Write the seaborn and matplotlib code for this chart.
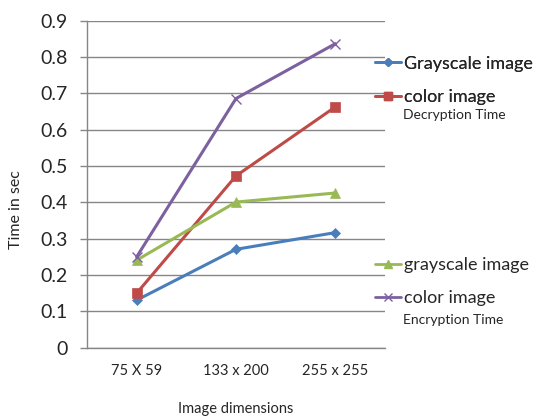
import matplotlib
matplotlib.use('Agg')
import matplotlib.pyplot as plt
import seaborn as sns
from matplotlib.lines import Line2D

# data
dimensions = ['75 X 59', '133 x 200', '255 x 255']
dec_gray = [0.131, 0.271, 0.317]
dec_color = [0.150, 0.473, 0.663]
enc_gray = [0.241, 0.401, 0.426]
enc_color = [0.250, 0.686, 0.837]

sns.set_style("white")
plt.rcParams['font.family'] = ['Lato', 'DejaVu Sans']

blue = '#4A7EBB'
red = '#BE4B48'
green = '#98B954'
purple = '#7D60A0'
grid_c = '#868686'

fig = plt.figure(figsize=(5.4, 4.19), dpi=100)
ax = fig.add_axes([0.161, 0.170, 0.552, 0.7804])

series = [
    (dec_gray, blue, 'D', 5, 'Grayscale image'),
    (dec_color, red, 's', 7, 'color image'),
    (enc_gray, green, '^', 7, 'grayscale image'),
    (enc_color, purple, 'x', 7, 'color image'),
]
for vals, col, mk, ms, lab in series:
    sns.lineplot(x=dimensions, y=vals, color=col, marker=mk, markersize=ms,
                 markeredgecolor=col, markeredgewidth=1 if mk == 'x' else 0.5,
                 linewidth=2.2, ax=ax, legend=False, sort=False)

ax.set_xlim(-0.5, 2.5)
ax.set_ylim(0, 0.9)
ax.set_yticks([i / 10 for i in range(10)])
ax.set_yticklabels(['0'] + ['%.1f' % (i / 10) for i in range(1, 10)], fontsize=14)
ax.set_xticks(range(3))
ax.set_xticklabels(dimensions, fontsize=10.5)
ax.set_xticks([-0.5, 0.5, 1.5, 2.5], minor=True)
ax.tick_params(axis='x', which='major', length=0, pad=12)
ax.tick_params(axis='x', which='minor', length=5, color=grid_c, width=1, direction='out')
ax.tick_params(axis='y', length=5, color=grid_c, width=1, direction='out', left=True, pad=9)
ax.grid(axis='y', color=grid_c, linewidth=1)
ax.set_axisbelow(True)
for s in ['top', 'right']:
    ax.spines[s].set_visible(False)
for s in ['left', 'bottom']:
    ax.spines[s].set_color(grid_c)
    ax.spines[s].set_linewidth(1)

ax.set_ylabel('Time in sec', fontsize=11.5)
ax.yaxis.set_label_coords(-0.215, 0.424)
ax.set_xlabel('Image dimensions', fontsize=10.5)
ax.xaxis.set_label_coords(0.5, -0.165)

lines = ax.get_lines()
def handle(line):
    return Line2D([], [], color=line.get_color(), marker=line.get_marker(),
                  markersize=line.get_markersize() * 0.8, linewidth=2)

leg1 = fig.legend([handle(lines[0]), handle(lines[1])],
                  ['Grayscale image', 'color image'],
                  loc='upper left', bbox_to_anchor=(0.695, 0.867),
                  frameon=False, fontsize=13, handlelength=1.45,
                  handletextpad=0.15, labelspacing=0.95, borderpad=0, borderaxespad=0)
fig.text(0.746, 0.725, 'Decryption Time', fontsize=10, va='center')
leg2 = fig.legend([handle(lines[2]), handle(lines[3])],
                  ['grayscale image', 'color image'],
                  loc='upper left', bbox_to_anchor=(0.695, 0.387),
                  frameon=False, fontsize=13, handlelength=1.45,
                  handletextpad=0.15, labelspacing=0.95, borderpad=0, borderaxespad=0)
fig.add_artist(leg1)
fig.text(0.746, 0.236, 'Encryption Time', fontsize=10, va='center')

fig.savefig('out.png', dpi=100, facecolor='white')
